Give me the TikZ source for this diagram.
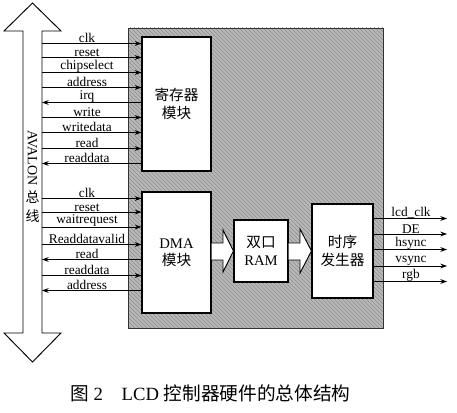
\documentclass[tikz,border=0pt]{standalone}
\usepackage{fontspec}
\setmainfont{Liberation Serif}
\newfontfamily\cjk{Noto Sans CJK SC}
\usetikzlibrary{arrows.meta,patterns}

\tikzset{every picture/.style={line width=0.6pt}}
\tikzset{
  sigout/.style={-{Stealth[length=5pt,width=3.6pt]}},
  sigin/.style={{Stealth[length=5pt,width=3.6pt]}-},
  siglabel/.style={anchor=south,inner sep=0pt,font=\fontsize{10}{10}\selectfont},
  modbox/.style={draw,fill=white,line width=0.8pt,align=center,inner sep=0pt,font=\fontsize{11}{13}\selectfont},
  blockarrow/.style={draw,fill=white,line width=0.7pt},
}

\begin{document}
\begin{tikzpicture}[x=0.75pt,y=0.75pt,yscale=-1,xscale=1]
\useasboundingbox (0,0) rectangle (457,413);

%Shape: Rectangle (controller)
\fill [gray!55] (128,28) rectangle (383,328);
\fill [pattern=north west lines,pattern color=gray!90] (128,28) rectangle (383,328);
\draw [black!80,line width=0.7pt] (128,28) rectangle (383,328);

%Shape: Double Arrow (bus)
\draw [fill=white,line width=0.7pt] (32.5,3) -- (61,31) -- (42,31) -- (42,333) -- (61,333) -- (32.5,362) -- (4,333) -- (23,333) -- (23,31) -- (4,31) -- cycle;
\coordinate (busR) at (42,0);
\coordinate (outR) at (447,0);

% Text Node
\node (avalon) at (32.5,158) [rotate=-90,inner sep=0pt,font=\fontsize{10.5}{10.5}\selectfont] {AVALON};
\node (zong) at (32.5,197) [inner sep=0pt,font=\cjk\fontsize{10.5}{10.5}\selectfont] {总};
\node (xian) at (32.5,216) [inner sep=0pt,font=\cjk\fontsize{10.5}{10.5}\selectfont] {线};

%Shape: Rectangle (modules)
\node (regmod) at (176.5,104) [modbox,minimum width=51.75pt,minimum height=100.5pt] {{\cjk 寄存器}\\{\cjk 模块}};
\node (dmamod) at (176.5,252.5) [modbox,minimum width=51.75pt,minimum height=90.75pt] {DMA\\{\cjk 模块}};
\node (rammod) at (261,251) [modbox,minimum width=40.5pt,minimum height=46.5pt] {{\cjk 双口}\\RAM};
\node (timmod) at (342.5,251) [modbox,minimum width=45.75pt,minimum height=70.5pt] {{\cjk 时序}\\{\cjk 发生器}};

%Shape: Block Arrows
\draw [blockarrow] (dmamod.east |- 0,243) -- (223,243) -- (223,230) -- (rammod.west) -- (223,272) -- (223,260) -- (dmamod.east |- 0,260);
\draw [blockarrow] (rammod.east |- 0,243) -- (300,243) -- (300,229) -- (timmod.west) -- (300,273) -- (300,260) -- (rammod.east |- 0,260);

% Text Node (register signals)
\node (rclk) at (87,43.5) [siglabel] {clk};
\node (rreset) at (87,57.5) [siglabel] {reset};
\node (rcs) at (87,72.5) [siglabel] {chipselect};
\node (raddr) at (87,87.5) [siglabel] {address};
\node (rirq) at (87,102.5) [siglabel] {irq};
\node (rwrite) at (87,117.5) [siglabel] {write};
\node (rwdata) at (87,132.5) [siglabel] {writedata};
\node (rread) at (87,148.5) [siglabel] {read};
\node (rrdata) at (87,163.5) [siglabel] {readdata};

%Straight Lines (register signals)
\draw [sigout] (busR |- rclk.south) -- (regmod.west |- rclk.south);
\draw [sigout] (busR |- rreset.south) -- (regmod.west |- rreset.south);
\draw [sigout] (busR |- rcs.south) -- (regmod.west |- rcs.south);
\draw [sigout] (busR |- raddr.south) -- (regmod.west |- raddr.south);
\draw [sigin] (busR |- rirq.south) -- (regmod.west |- rirq.south);
\draw [sigout] (busR |- rwrite.south) -- (regmod.west |- rwrite.south);
\draw [sigout] (busR |- rwdata.south) -- (regmod.west |- rwdata.south);
\draw [sigout] (busR |- rread.south) -- (regmod.west |- rread.south);
\draw [sigin] (busR |- rrdata.south) -- (regmod.west |- rrdata.south);

% Text Node (DMA signals)
\node (dclk) at (87,198.5) [siglabel] {clk};
\node (dreset) at (87,212) [siglabel] {reset};
\node (dwait) at (87,227) [siglabel] {waitrequest};
\node (dvalid) at (87,244.5) [siglabel] {Readdatavalid};
\node (dread) at (87,259.5) [siglabel] {read};
\node (drdata) at (87,275.5) [siglabel] {readdata};
\node (daddr) at (87,290.5) [siglabel] {address};

%Straight Lines (DMA signals)
\draw [sigout] (busR |- dclk.south) -- (dmamod.west |- dclk.south);
\draw [sigout] (busR |- dreset.south) -- (dmamod.west |- dreset.south);
\draw [sigout] (busR |- dwait.south) -- (dmamod.west |- dwait.south);
\draw [sigout] (busR |- dvalid.south) -- (dmamod.west |- dvalid.south);
\draw [sigin] (busR |- dread.south) -- (dmamod.west |- dread.south);
\draw [sigout] (busR |- drdata.south) -- (dmamod.west |- drdata.south);
\draw [sigin] (busR |- daddr.south) -- (dmamod.west |- daddr.south);

% Text Node (LCD outputs)
\node (olcd) at (411,218.5) [siglabel] {lcd\_clk};
\node (ode) at (411,234) [siglabel] {DE};
\node (ohs) at (411,249.5) [siglabel] {hsync};
\node (ovs) at (411,266) [siglabel] {vsync};
\node (orgb) at (411,281.5) [siglabel] {rgb};

%Straight Lines (LCD outputs)
\draw [sigout] (timmod.east |- olcd.south) -- (outR |- olcd.south);
\draw [sigout] (timmod.east |- ode.south) -- (outR |- ode.south);
\draw [sigout] (timmod.east |- ohs.south) -- (outR |- ohs.south);
\draw [sigout] (timmod.east |- ovs.south) -- (outR |- ovs.south);
\draw [sigout] (timmod.east |- orgb.south) -- (outR |- orgb.south);

% Text Node (caption)
\node (caption) at (70,393) [anchor=west,inner sep=0pt,font=\fontsize{14}{14}\selectfont] {{\cjk 图} 2\quad LCD {\cjk 控制器硬件的总体结构}};

\end{tikzpicture}
\end{document}
